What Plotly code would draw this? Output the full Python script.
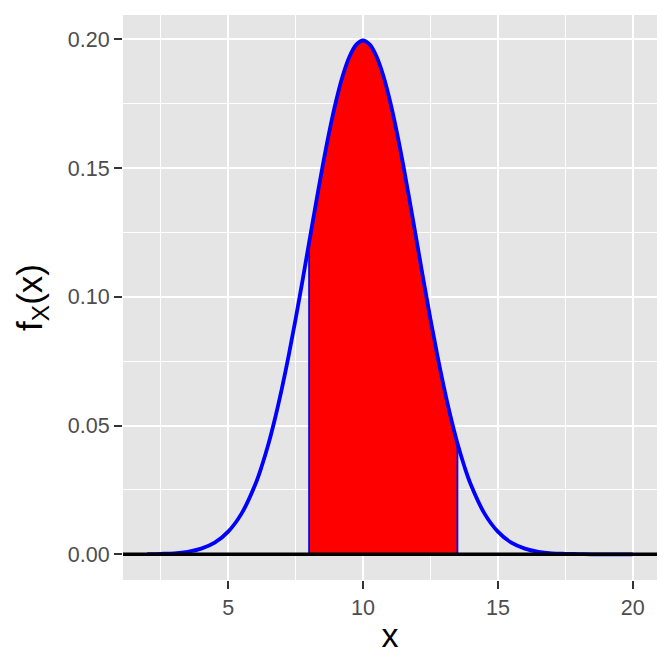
import plotly.graph_objects as go

# Density curve values (x, f_X(x))
x_vals = [2.0, 2.5, 3.0, 3.5, 4.0, 4.5, 5.0, 5.5, 6.0, 6.25, 6.5, 6.75, 7.0, 7.25, 7.5, 7.75,
          8.0, 8.25, 8.5, 8.75, 9.0, 9.25, 9.5, 9.75, 10.0, 10.25, 10.5, 10.75, 11.0, 11.25,
          11.5, 11.75, 12.0, 12.25, 12.5, 12.75, 13.0, 13.25, 13.5, 13.75, 14.0, 14.5, 15.0,
          15.5, 16.0, 16.5, 17.0, 17.5, 18.0, 18.5, 19.0, 19.5, 20.0]
y_vals = [0.0001, 0.0002, 0.0004, 0.0010, 0.0022, 0.0045, 0.0088, 0.0159, 0.0270, 0.0344,
          0.0431, 0.0533, 0.0648, 0.0775, 0.0913, 0.1059, 0.1210, 0.1360, 0.1506, 0.1641,
          0.1760, 0.1859, 0.1933, 0.1979, 0.1995, 0.1979, 0.1933, 0.1859, 0.1760, 0.1641,
          0.1506, 0.1360, 0.1210, 0.1059, 0.0913, 0.0775, 0.0648, 0.0533, 0.0431, 0.0344,
          0.0270, 0.0159, 0.0088, 0.0045, 0.0022, 0.0010, 0.0004, 0.0002, 0.0001, 0.0000,
          0.0000, 0.0000, 0.0000]
shade_lo = 8.0
shade_hi = 13.5
x_ticks = [5, 10, 15, 20]
y_ticks = [0.00, 0.05, 0.10, 0.15, 0.20]
y_ticklabels = ["0.00", "0.05", "0.10", "0.15", "0.20"]

sx = [x for x in x_vals if shade_lo <= x <= shade_hi]
sy = [y for x, y in zip(x_vals, y_vals) if shade_lo <= x <= shade_hi]
poly_x = [shade_lo] + sx + [shade_hi, shade_lo]
poly_y = [0] + sy + [0, 0]

fig = go.Figure()
fig.add_trace(go.Scatter(x=poly_x, y=poly_y, mode="lines", fill="toself",
                         fillcolor="#FF0000", line=dict(color="#0000FF", width=1.8),
                         hoverinfo="skip", showlegend=False))
fig.add_trace(go.Scatter(x=x_vals, y=y_vals, mode="lines",
                         line=dict(color="#0000FF", width=3.8, shape="spline", smoothing=1.0),
                         showlegend=False))
fig.add_hline(y=0, line=dict(color="black", width=3.5))

fig.update_layout(
    width=672, height=672,
    margin=dict(l=123, r=15, t=15, b=92),
    paper_bgcolor="white", plot_bgcolor="#E5E5E5",
    font=dict(family="Liberation Sans, Arial", color="#4D4D4D"),
)
fig.update_xaxes(range=[1.1, 20.9], tickvals=x_ticks, ticks="outside", ticklen=8,
                 tickwidth=2, tickcolor="#333333", showgrid=True, gridcolor="white",
                 gridwidth=2.2, zeroline=False, showline=False,
                 minor=dict(dtick=2.5, tick0=0, showgrid=True, gridcolor="white", gridwidth=1.1, ticks=""),
                 tickfont=dict(size=21.5, color="#4D4D4D"),
                 title=dict(text="x", font=dict(size=34, color="black"), standoff=4))
fig.update_yaxes(range=[-0.00997, 0.2094], tickvals=y_ticks, ticktext=y_ticklabels,
                 ticks="outside", ticklen=8, tickwidth=2, tickcolor="#333333",
                 showgrid=True, gridcolor="white", gridwidth=2.2, zeroline=False, showline=False,
                 minor=dict(dtick=0.025, tick0=0, showgrid=True, gridcolor="white", gridwidth=1.1, ticks=""),
                 tickfont=dict(size=21.5, color="#4D4D4D"),
                 title=dict(text="f<sub>X</sub>(x)", font=dict(size=35, color="black"), standoff=14))

fig.write_html("out.html", config={"displayModeBar": False},
               post_script="document.body.style.margin='0px';")
